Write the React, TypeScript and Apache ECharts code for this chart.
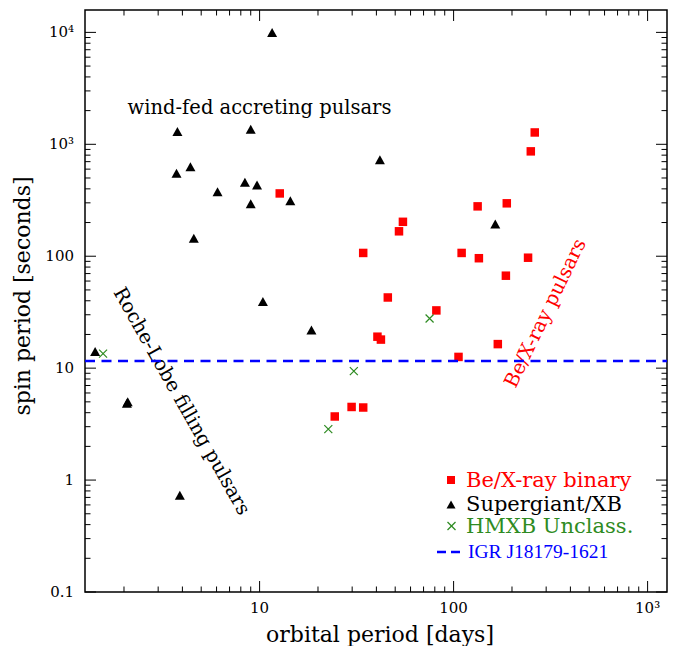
import React, { useEffect, useRef } from "react";
import * as echarts from "echarts";

// ---- data (orbital period [days], spin period [s]) ----
const beXrayBinary: [number, number][] = [
  [12.7, 364], [24.4, 3.7], [29.8, 4.5], [34.2, 4.45], [34.2, 107],
  [40.5, 19.1], [42.2, 18.0], [45.8, 42.8], [52.3, 167], [54.8, 203],
  [81.5, 32.8], [106, 12.6], [110, 107], [133, 279], [135, 96],
  [169, 16.4], [186, 67], [188, 297], [242, 97], [250, 865], [262, 1276],
];
const supergiantXB: [number, number][] = [
  [11.6, 10000], [3.77, 1300], [9.0, 1360], [3.73, 550], [4.4, 630],
  [6.07, 376], [8.4, 457], [9.7, 434], [9.0, 294], [14.4, 313],
  [41.7, 728], [164, 194], [4.58, 145], [10.4, 39.4], [18.5, 21.9],
  [1.42, 14.1], [2.09, 5.0], [2.07, 4.85], [3.88, 0.73],
];
const hmxbUnclass: [number, number][] = [
  [1.56, 13.5], [22.6, 2.85], [30.6, 9.4], [75.2, 27.8],
];
const igrSpinPeriod = 11.6;

// ---- axes (log10 space) ----
const X_MIN = 0.1, X_MAX = 3.1;
const Y_MIN = -1, Y_MAX = 4.2;
const X_MAJOR = [10, 100, 1000];
const X_MAJOR_LABELS = ["10", "100", "10³"];
const Y_MAJOR = [0.1, 1, 10, 100, 1000, 10000];
const Y_MAJOR_LABELS = ["0.1", "1", "10", "100", "10³", "10⁴"];
const X_DECADES = [1, 10, 100, 1000];
const Y_DECADES = [0.1, 1, 10, 100, 1000, 10000];
const MINOR_MULTS = [2, 3, 4, 5, 6, 7, 8, 9];

const SERIF = "DejaVu Serif";
const RED = "#ff0000";
const GREEN = "#2e8b22";
const BLUE = "#0000ff";

const lg = (p: [number, number]) => [Math.log10(p[0]), Math.log10(p[1])];

export default function App() {
  const ref = useRef<HTMLDivElement>(null);
  useEffect(() => {
    if (!ref.current) return;
    const chart = echarts.init(ref.current, null, { renderer: "svg" });

    const renderTicks = (_params: any, api: any) => {
      const children: any[] = [];
      const [xl, yb] = api.coord([X_MIN, Y_MIN]);
      const [xr, yt] = api.coord([X_MAX, Y_MAX]);
      const tick = (x1: number, y1: number, x2: number, y2: number) =>
        children.push({
          type: "line",
          shape: { x1, y1, x2, y2 },
          style: { stroke: "#000", lineWidth: 1 },
        });
      const MAJ = 11, MIN = 5.5;
      X_DECADES.forEach((d) => {
        MINOR_MULTS.forEach((m) => {
          const l = Math.log10(d * m);
          if (l <= X_MIN || l >= X_MAX) return;
          const px = api.coord([l, Y_MIN])[0];
          tick(px, yb, px, yb - MIN);
          tick(px, yt, px, yt + MIN);
        });
      });
      X_MAJOR.forEach((v, i) => {
        const px = api.coord([Math.log10(v), Y_MIN])[0];
        tick(px, yb, px, yb - MAJ);
        tick(px, yt, px, yt + MAJ);
        children.push({
          type: "text",
          x: px,
          y: yb + 8,
          style: {
            text: X_MAJOR_LABELS[i],
            fill: "#000",
            fontSize: 15,
            fontFamily: SERIF,
            align: "center",
            verticalAlign: "top",
          },
        });
      });
      Y_DECADES.forEach((d) => {
        MINOR_MULTS.forEach((m) => {
          const l = Math.log10(d * m);
          if (l <= Y_MIN || l >= Y_MAX) return;
          const py = api.coord([X_MIN, l])[1];
          tick(xl, py, xl + MIN, py);
          tick(xr, py, xr - MIN, py);
        });
      });
      Y_MAJOR.forEach((v, i) => {
        const py = api.coord([X_MIN, Math.log10(v)])[1];
        tick(xl, py, xl + MAJ, py);
        tick(xr, py, xr - MAJ, py);
        children.push({
          type: "text",
          x: xl - 11,
          y: py,
          style: {
            text: Y_MAJOR_LABELS[i],
            fill: "#000",
            fontSize: 15,
            fontFamily: SERIF,
            align: "right",
            verticalAlign: "middle",
          },
        });
      });
      return { type: "group", children };
    };

    const txt = (
      text: string,
      x: number,
      y: number,
      fill: string,
      fontSize: number,
      extra: any = {},
      family = SERIF
    ) => ({
      type: "text",
      x,
      y,
      rotation: extra.rotation || 0,
      style: {
        text,
        fill,
        fontSize,
        fontFamily: family,
        align: extra.align || "left",
        verticalAlign: "middle",
      },
    });

    chart.setOption({
      animation: false,
      backgroundColor: "#fff",
      grid: {
        left: 85,
        top: 10,
        width: 582,
        height: 582,
        show: true,
        borderColor: "#000",
        borderWidth: 1.5,
        backgroundColor: "transparent",
      },
      xAxis: { type: "value", min: X_MIN, max: X_MAX, show: false },
      yAxis: { type: "value", min: Y_MIN, max: Y_MAX, show: false },
      series: [
        {
          type: "line",
          data: [
            [X_MIN, Math.log10(igrSpinPeriod)],
            [X_MAX, Math.log10(igrSpinPeriod)],
          ],
          symbol: "none",
          lineStyle: { color: BLUE, width: 2.5, type: [10, 6.5] },
          silent: true,
        },
        {
          type: "scatter",
          data: beXrayBinary.map(lg),
          symbol: "rect",
          symbolSize: 8.5,
          itemStyle: { color: RED, opacity: 1 },
        },
        {
          type: "scatter",
          data: supergiantXB.map(lg),
          symbol: "triangle",
          symbolSize: [10, 9],
          itemStyle: { color: "#000", opacity: 1 },
        },
        {
          type: "scatter",
          data: hmxbUnclass.map(lg),
          symbol: "path://M0,0L10,10M10,0L0,10",
          symbolSize: 8,
          itemStyle: { color: "none", borderColor: GREEN, borderWidth: 1.2, opacity: 1 },
        },
        {
          type: "custom",
          data: [[0, 0]],
          renderItem: renderTicks,
          clip: false,
          silent: true,
          z: 10,
        },
      ],
      graphic: [
        txt("wind-fed accreting pulsars", 259.5, 107, "#000", 19.5, { align: "center" }),
        txt("Roche-Lobe filling pulsars", 182, 401, "#000", 19.5, {
          align: "center",
          rotation: -1.056,
        }),
        txt("Be/X-ray pulsars", 545, 313, RED, 19.5, {
          align: "center",
          rotation: 1.12,
        }),
        txt("spin period [seconds]", 22, 296, "#000", 22, {
          align: "center",
          rotation: Math.PI / 2,
        }),
        txt("orbital period [days]", 380, 634, "#000", 22, { align: "center" }),
        // legend
        {
          type: "rect",
          shape: { x: 447, y: 476, width: 8, height: 8 },
          style: { fill: RED },
        },
        txt("Be/X-ray binary", 466, 480, RED, 21),
        {
          type: "polygon",
          shape: { points: [[451, 500.5], [455.5, 508.5], [446.5, 508.5]] },
          style: { fill: "#000" },
        },
        txt("Supergiant/XB", 466, 504, "#000", 21),
        {
          type: "line",
          shape: { x1: 447.5, y1: 522, x2: 455.5, y2: 530 },
          style: { stroke: GREEN, lineWidth: 1.2 },
        },
        {
          type: "line",
          shape: { x1: 455.5, y1: 522, x2: 447.5, y2: 530 },
          style: { stroke: GREEN, lineWidth: 1.2 },
        },
        txt("HMXB Unclass.", 466, 526, GREEN, 21),
        {
          type: "line",
          shape: { x1: 437, y1: 552, x2: 464, y2: 552 },
          style: { stroke: BLUE, lineWidth: 2.5, lineDash: [9, 5] },
        },
        txt("IGR J18179-1621", 468, 551, BLUE, 19.5, {}, "Liberation Serif"),
      ],
    });
    return () => chart.dispose();
  }, []);
  return (
    <div
      ref={ref}
      style={{ position: "fixed", left: 0, top: 0, width: 678, height: 646 }}
    />
  );
}
